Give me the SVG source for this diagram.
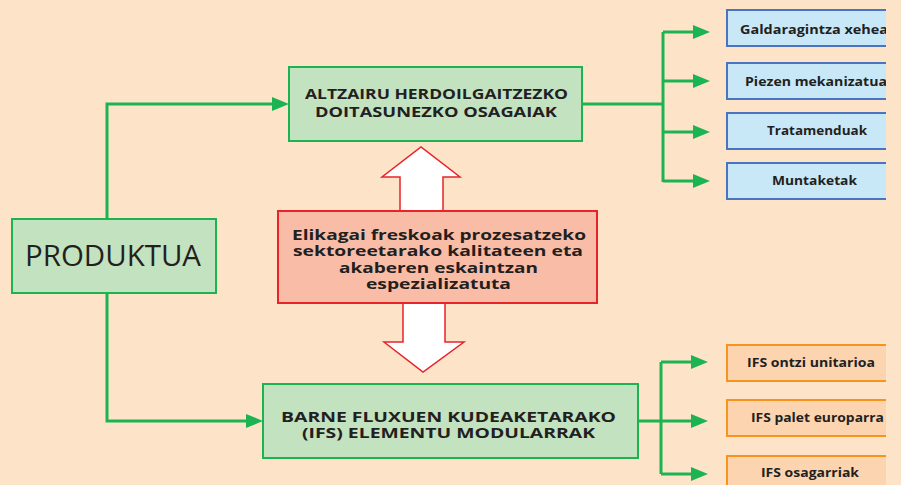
<svg xmlns="http://www.w3.org/2000/svg" width="901" height="485" viewBox="0 0 901 485">
<defs>
<style>
.green{fill:#c3e2c0;stroke:#1cb452;stroke-width:2}
.blue{fill:#c8e8f8;stroke:#4a74bf;stroke-width:2}
.orange{fill:#fdd4b0;stroke:#f7941d;stroke-width:2}
.red{fill:#f9bca6;stroke:#e8232a;stroke-width:2}
.bigarrow{fill:#ffffff;stroke:#e8232a;stroke-width:1.5}
.conn{fill:none;stroke:#1cb452;stroke-width:3}
.head{fill:#1cb452}
.t{font-family:"Open Sans","Noto Sans","DejaVu Sans",sans-serif;fill:#231f20;text-anchor:middle}
.ts,.tb{text-anchor:start}
.tb{font-weight:bold;font-size:15px}
.ts{font-weight:bold;font-size:13px}
</style>
<clipPath id="cl"><rect x="0" y="0" width="886" height="485"/></clipPath>
</defs>
<rect x="0" y="0" width="901" height="485" fill="#fde4c9"/>
<g id="connectors">
<path class="conn" d="M107,219V104H272"/>
<path class="conn" d="M107,293V421H246"/>
<path class="head" d="M272,97L289,104L272,111z"/>
<path class="head" d="M246,414L263,421L246,428z"/>
<path class="conn" d="M582,104H663"/>
<path class="conn" d="M663,32V182"/>
<path class="conn" d="M663,32H695M663,81H695M663,132H695M663,181H695"/>
<path class="head" d="M693,25L710,32L693,39zM693,74L710,81L693,88zM693,125L710,132L693,139zM693,174L710,181L693,188z"/>
<path class="conn" d="M638,421H661"/>
<path class="conn" d="M661,362V474"/>
<path class="conn" d="M661,362H693M661,421H693M661,474H693"/>
<path class="head" d="M691,355L708,362L691,369zM691,414L708,421L691,428zM691,467L708,474L691,481z"/>
</g>
<g id="produktua">
<rect class="green" x="12" y="219" width="204" height="74"/>
<text class="t" x="25" y="266" font-size="29" style="text-anchor:start" textLength="176" lengthAdjust="spacingAndGlyphs">PRODUKTUA</text>
</g>
<g id="altzairu">
<rect class="green" x="289" y="67" width="293" height="74"/>
<text class="t tb" x="305" y="99" textLength="263" lengthAdjust="spacingAndGlyphs">ALTZAIRU HERDOILGAITZEZKO</text>
<text class="t tb" x="315" y="117" textLength="242" lengthAdjust="spacingAndGlyphs">DOITASUNEZKO OSAGAIAK</text>
</g>
<g id="barne">
<rect class="green" x="263" y="384" width="375" height="74"/>
<text class="t tb" x="281" y="422" textLength="335" lengthAdjust="spacingAndGlyphs">BARNE FLUXUEN KUDEAKETARAKO</text>
<text class="t tb" x="302" y="438" textLength="293" lengthAdjust="spacingAndGlyphs">(IFS) ELEMENTU MODULARRAK</text>
</g>
<g id="updown">
<path class="bigarrow" d="M400,211V177H382L421,147L460,177H443V211"/>
<path class="bigarrow" d="M403,303V342H384L423,372L464,342H445V303"/>
</g>
<g id="elikagai">
<rect class="red" x="278" y="211" width="319" height="92"/>
<text class="t tb" x="292" y="240" textLength="294" lengthAdjust="spacingAndGlyphs">Elikagai freskoak prozesatzeko</text>
<text class="t tb" x="293" y="256" textLength="290" lengthAdjust="spacingAndGlyphs">sektoreetarako kalitateen eta</text>
<text class="t tb" x="339" y="273" textLength="199" lengthAdjust="spacingAndGlyphs">akaberen eskaintzan</text>
<text class="t tb" x="366" y="289" textLength="145" lengthAdjust="spacingAndGlyphs">espezializatuta</text>
</g>
<g clip-path="url(#cl)">
<g id="galdaragintza">
<rect class="blue" x="727" y="10" width="200" height="36"/>
<text class="t ts" x="740" y="34" textLength="148" lengthAdjust="spacingAndGlyphs">Galdaragintza xehea</text>
</g>
<g id="piezen">
<rect class="blue" x="727" y="63" width="200" height="36"/>
<text class="t ts" x="745" y="86" textLength="142" lengthAdjust="spacingAndGlyphs">Piezen mekanizatua</text>
</g>
<g id="tratamenduak">
<rect class="blue" x="727" y="113" width="200" height="36"/>
<text class="t ts" x="767" y="135" textLength="100" lengthAdjust="spacingAndGlyphs">Tratamenduak</text>
</g>
<g id="muntaketak">
<rect class="blue" x="727" y="163" width="200" height="36"/>
<text class="t ts" x="772" y="185" textLength="85" lengthAdjust="spacingAndGlyphs">Muntaketak</text>
</g>
<g id="ontzi">
<rect class="orange" x="727" y="345" width="200" height="36"/>
<text class="t ts" x="747" y="367" textLength="128" lengthAdjust="spacingAndGlyphs">IFS ontzi unitarioa</text>
</g>
<g id="palet">
<rect class="orange" x="727" y="400" width="200" height="36"/>
<text class="t ts" x="751" y="422" textLength="133" lengthAdjust="spacingAndGlyphs">IFS palet europarra</text>
</g>
<g id="osagarriak">
<rect class="orange" x="727" y="456" width="200" height="36"/>
<text class="t ts" x="761" y="477" textLength="98" lengthAdjust="spacingAndGlyphs">IFS osagarriak</text>
</g>
</g>
</svg>
